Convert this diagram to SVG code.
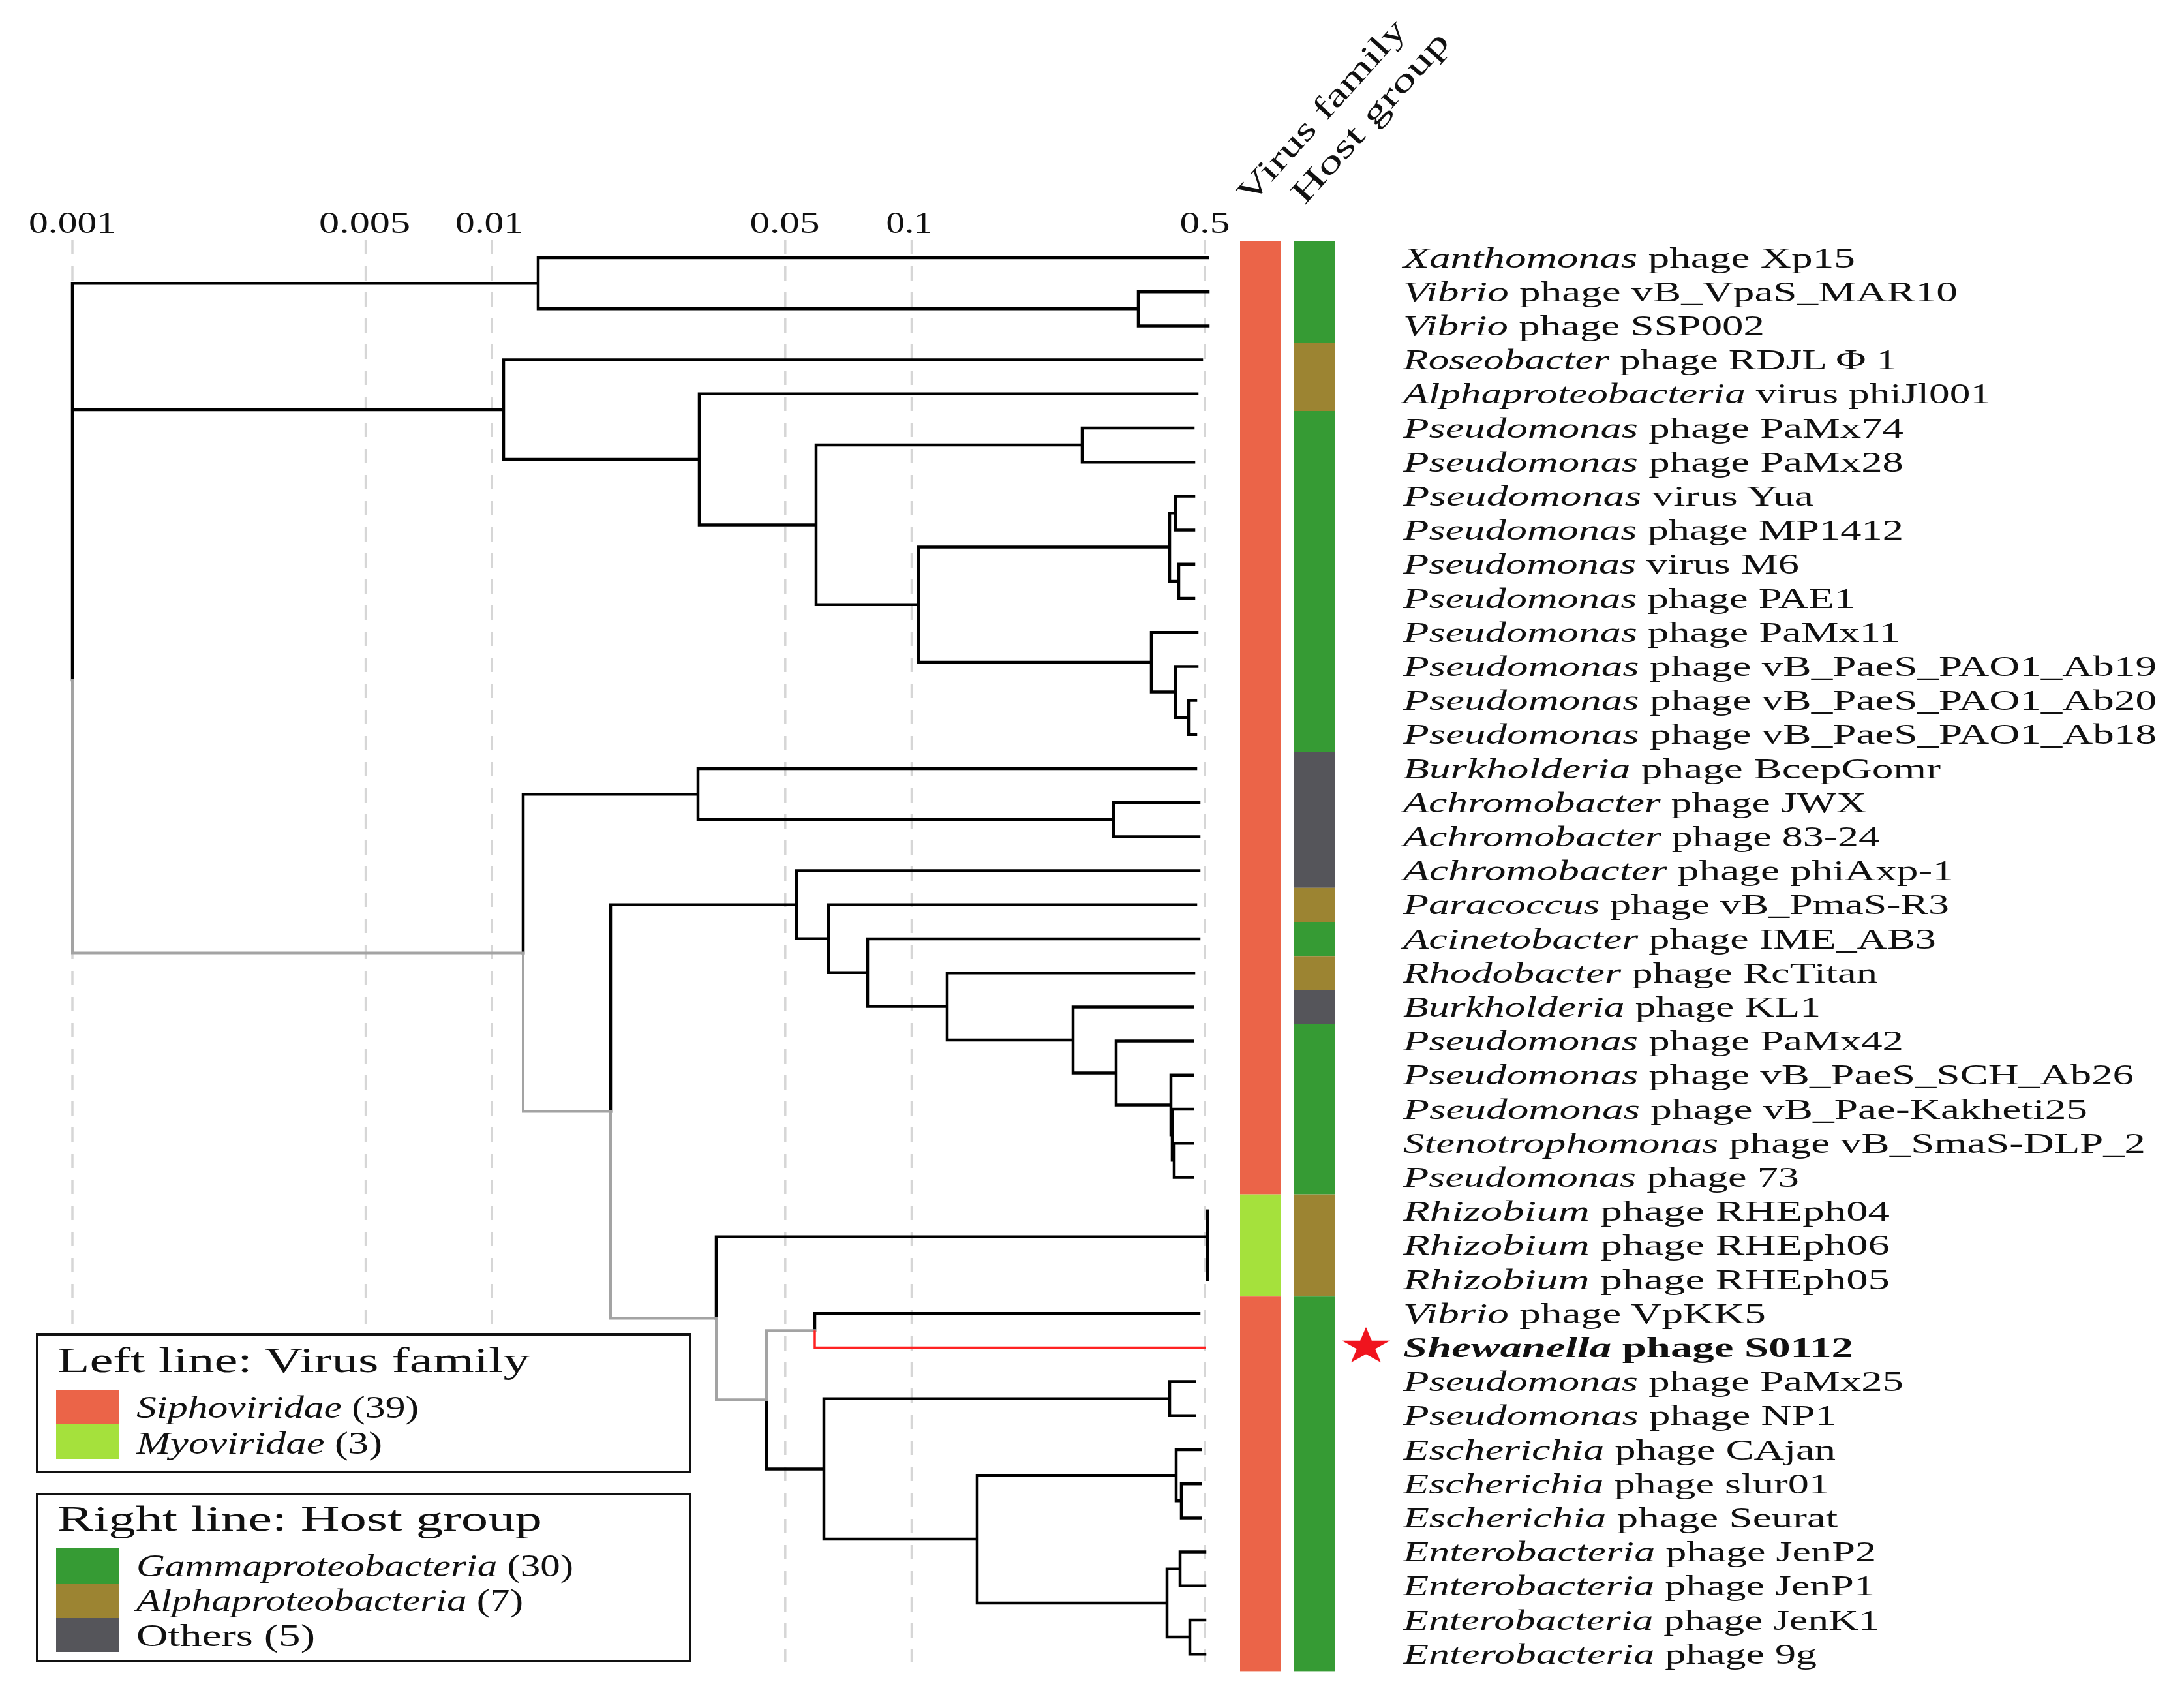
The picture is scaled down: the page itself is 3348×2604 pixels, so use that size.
<svg xmlns="http://www.w3.org/2000/svg" width="3348" height="2604" viewBox="0 0 3348 2604">
<defs>
<style>
.grid{stroke:#d6d6d6;stroke-width:3.5;stroke-dasharray:22 18;fill:none}
.bk{stroke:#000;stroke-width:4.5;fill:none;stroke-linecap:square}
.gy{stroke:#a3a3a3;stroke-width:4;fill:none;stroke-linecap:square}
.rd{stroke:#ff2222;stroke-width:3.5;fill:none;stroke-linecap:butt}
text{font-family:"Liberation Serif","Times New Roman",serif;fill:#111}
.ax{font-size:46px;text-anchor:middle}
.lab{font-size:44px}
.hd{font-size:50px}
.lt{font-size:54px}
.li{font-size:48px}
.it{font-style:italic}
.b{font-weight:bold}
.sipho{fill:#eb6448}
.myo{fill:#a5e13c}
.gam{fill:#369b34}
.alp{fill:#9c8432}
.oth{fill:#55555a}
</style>
</defs>
<rect width="3348" height="2604" fill="#fff"/>

<g id="grid">
<path class="grid" d="M111,368V2548M560.6,368V2548M754,368V2548M1203.8,368V2548M1397.5,368V2548M1847,368V2548"/>
</g>

<g id="axis">
<text class="ax" x="111" y="357" textLength="134" lengthAdjust="spacingAndGlyphs">0.001</text>
<text class="ax" x="559" y="357" textLength="140" lengthAdjust="spacingAndGlyphs">0.005</text>
<text class="ax" x="750" y="357" textLength="104" lengthAdjust="spacingAndGlyphs">0.01</text>
<text class="ax" x="1203" y="357" textLength="107" lengthAdjust="spacingAndGlyphs">0.05</text>
<text class="ax" x="1394" y="357" textLength="71" lengthAdjust="spacingAndGlyphs">0.1</text>
<text class="ax" x="1847" y="357" textLength="77" lengthAdjust="spacingAndGlyphs">0.5</text>
</g>

<g id="headers">
<text class="hd" transform="translate(1917,315) rotate(-48)" textLength="360" lengthAdjust="spacingAndGlyphs">Virus family</text>
<text class="hd" transform="translate(2000,315) rotate(-48)" textLength="335" lengthAdjust="spacingAndGlyphs">Host group</text>
</g>

<g id="connectors">
<path class="bk" d="M111,434.2V1042M111,434.2H825M111,627.9H772
M825,395V473.3M825,395H1851M825,473.3H1745
M1745,447.2V499.4M1745,447.2H1852M1745,499.4H1852
M772,551.6V704.1M772,551.6H1842M772,704.1H1072
M1072,603.8V804.4M1072,603.8H1835M1072,804.4H1251
M1251,682.1V926.8M1251,682.1H1659M1251,926.8H1408
M1659,656V708.2M1659,656H1829M1659,708.2H1830
M1408,838.6V1014.9M1408,838.6H1793M1408,1014.9H1765
M1793,786.3V890.9M1793,786.3H1802M1793,890.9H1807
M1802,760.4V812.6M1802,760.4H1830M1802,812.6H1830
M1807,864.8V917M1807,864.8H1830M1807,917H1830
M1765,969.2V1060.6M1765,969.2H1835M1765,1060.6H1802
M1802,1021.4V1099.7M1802,1021.4H1835M1802,1099.7H1822
M1822,1073.6V1125.8M1822,1073.6H1833M1822,1125.8H1833
M802,1217.2V1460.4M802,1217.2H1070
M1070,1178V1256.3M1070,1178H1833M1070,1256.3H1707
M1707,1230.2V1282.4M1707,1230.2H1838M1707,1282.4H1838
M936,1386.7V1703.6M936,1386.7H1221
M1221,1334.6V1438.8M1221,1334.6H1838M1221,1438.8H1270
M1270,1386.8V1490.8M1270,1386.8H1833M1270,1490.8H1330
M1330,1439V1542.6M1330,1439H1838M1330,1542.6H1452
M1452,1491.2V1594M1452,1491.2H1830M1452,1594H1645
M1645,1543.4V1644.5M1645,1543.4H1828M1645,1644.5H1711
M1711,1595.6V1693.5M1711,1595.6H1828M1711,1693.5H1795
M1795,1647.8V1739.2M1795,1647.8H1828M1795,1739.2H1797
M1797,1700V1778.3M1797,1700H1828M1797,1778.3H1800
M1800,1752.2V1804.4M1800,1752.2H1828M1800,1804.4H1828
M1098,1895.8V2020.5M1098,1895.8H1851
M1175,2145.3V2251.4H1263
M1249,2013.2V2039.3M1249,2013.2H1838
M1263,2143.7V2359M1263,2143.7H1793M1263,2359H1498
M1793,2117.6V2169.8M1793,2117.6H1831M1793,2169.8H1831
M1498,2261.2V2456.9M1498,2261.2H1803M1498,2456.9H1789
M1803,2222V2300.3M1803,2222H1840M1803,2300.3H1811
M1811,2274.2V2326.4M1811,2274.2H1840M1811,2326.4H1840
M1789,2404.7V2509.1M1789,2404.7H1809M1789,2509.1H1824
M1809,2378.6V2430.8M1809,2378.6H1847M1809,2430.8H1847
M1824,2483V2535.2M1824,2483H1847M1824,2535.2H1847"/>
<path class="bk" style="stroke-width:6" d="M1851,1856.6V1961"/>
<path class="gy" d="M111,1042V1460.4H802M802,1460.4V1703.6H936M936,1703.6V2020.5H1098M1098,2020.5V2145.3H1175M1175,2145.3V2039.3H1249"/>
<path class="rd" d="M1249,2039.3V2065.4H1849"/>
</g>

<g id="heatmap">
<rect class="sipho" x="1901" y="369" width="62" height="1461.6"/>
<rect class="myo" x="1901" y="1830.6" width="62" height="156.6"/>
<rect class="sipho" x="1901" y="1987.2" width="62" height="574.2"/>
<rect class="gam" x="1984" y="369" width="63" height="156.6"/>
<rect class="alp" x="1984" y="525.6" width="63" height="104.4"/>
<rect class="gam" x="1984" y="630" width="63" height="522"/>
<rect class="oth" x="1984" y="1152" width="63" height="208.8"/>
<rect class="alp" x="1984" y="1360.8" width="63" height="52.2"/>
<rect class="gam" x="1984" y="1413" width="63" height="52.2"/>
<rect class="alp" x="1984" y="1465.2" width="63" height="52.2"/>
<rect class="oth" x="1984" y="1517.4" width="63" height="52.2"/>
<rect class="gam" x="1984" y="1569.6" width="63" height="261"/>
<rect class="alp" x="1984" y="1830.6" width="63" height="156.6"/>
<rect class="gam" x="1984" y="1987.2" width="63" height="574.2"/>
</g>

<g id="star">
<polygon fill="#f0141e" points="2094,2034 2102.8,2054.7 2131.1,2054.7 2108.2,2067.5 2116.9,2088.3 2094,2075.5 2071.1,2088.3 2079.8,2067.5 2056.9,2054.7 2085.2,2054.7"/>
</g>

<g id="labels">
<g id="leaf00"><text class="lab" x="2151" y="409.5" textLength="693" lengthAdjust="spacingAndGlyphs"><tspan class="it">Xanthomonas</tspan> phage Xp15</text></g>
<g id="leaf01"><text class="lab" x="2151" y="461.7" textLength="850" lengthAdjust="spacingAndGlyphs"><tspan class="it">Vibrio</tspan> phage vB_VpaS_MAR10</text></g>
<g id="leaf02"><text class="lab" x="2151" y="513.9" textLength="554" lengthAdjust="spacingAndGlyphs"><tspan class="it">Vibrio</tspan> phage SSP002</text></g>
<g id="leaf03"><text class="lab" x="2151" y="566.1" textLength="757" lengthAdjust="spacingAndGlyphs"><tspan class="it">Roseobacter</tspan> phage RDJL Φ 1</text></g>
<g id="leaf04"><text class="lab" x="2151" y="618.3" textLength="901" lengthAdjust="spacingAndGlyphs"><tspan class="it">Alphaproteobacteria</tspan> virus phiJl001</text></g>
<g id="leaf05"><text class="lab" x="2151" y="670.5" textLength="767" lengthAdjust="spacingAndGlyphs"><tspan class="it">Pseudomonas</tspan> phage PaMx74</text></g>
<g id="leaf06"><text class="lab" x="2151" y="722.7" textLength="767" lengthAdjust="spacingAndGlyphs"><tspan class="it">Pseudomonas</tspan> phage PaMx28</text></g>
<g id="leaf07"><text class="lab" x="2151" y="774.9" textLength="629" lengthAdjust="spacingAndGlyphs"><tspan class="it">Pseudomonas</tspan> virus Yua</text></g>
<g id="leaf08"><text class="lab" x="2151" y="827.1" textLength="767" lengthAdjust="spacingAndGlyphs"><tspan class="it">Pseudomonas</tspan> phage MP1412</text></g>
<g id="leaf09"><text class="lab" x="2151" y="879.3" textLength="607" lengthAdjust="spacingAndGlyphs"><tspan class="it">Pseudomonas</tspan> virus M6</text></g>
<g id="leaf10"><text class="lab" x="2151" y="931.5" textLength="693" lengthAdjust="spacingAndGlyphs"><tspan class="it">Pseudomonas</tspan> phage PAE1</text></g>
<g id="leaf11"><text class="lab" x="2151" y="983.7" textLength="762" lengthAdjust="spacingAndGlyphs"><tspan class="it">Pseudomonas</tspan> phage PaMx11</text></g>
<g id="leaf12"><text class="lab" x="2151" y="1035.9" textLength="1155" lengthAdjust="spacingAndGlyphs"><tspan class="it">Pseudomonas</tspan> phage vB_PaeS_PAO1_Ab19</text></g>
<g id="leaf13"><text class="lab" x="2151" y="1088.1" textLength="1155" lengthAdjust="spacingAndGlyphs"><tspan class="it">Pseudomonas</tspan> phage vB_PaeS_PAO1_Ab20</text></g>
<g id="leaf14"><text class="lab" x="2151" y="1140.3" textLength="1155" lengthAdjust="spacingAndGlyphs"><tspan class="it">Pseudomonas</tspan> phage vB_PaeS_PAO1_Ab18</text></g>
<g id="leaf15"><text class="lab" x="2151" y="1192.5" textLength="824" lengthAdjust="spacingAndGlyphs"><tspan class="it">Burkholderia</tspan> phage BcepGomr</text></g>
<g id="leaf16"><text class="lab" x="2151" y="1244.7" textLength="710" lengthAdjust="spacingAndGlyphs"><tspan class="it">Achromobacter</tspan> phage JWX</text></g>
<g id="leaf17"><text class="lab" x="2151" y="1296.9" textLength="730" lengthAdjust="spacingAndGlyphs"><tspan class="it">Achromobacter</tspan> phage 83-24</text></g>
<g id="leaf18"><text class="lab" x="2151" y="1349.1" textLength="844" lengthAdjust="spacingAndGlyphs"><tspan class="it">Achromobacter</tspan> phage phiAxp-1</text></g>
<g id="leaf19"><text class="lab" x="2151" y="1401.3" textLength="837" lengthAdjust="spacingAndGlyphs"><tspan class="it">Paracoccus</tspan> phage vB_PmaS-R3</text></g>
<g id="leaf20"><text class="lab" x="2151" y="1453.5" textLength="817" lengthAdjust="spacingAndGlyphs"><tspan class="it">Acinetobacter</tspan> phage IME_AB3</text></g>
<g id="leaf21"><text class="lab" x="2151" y="1505.7" textLength="727" lengthAdjust="spacingAndGlyphs"><tspan class="it">Rhodobacter</tspan> phage RcTitan</text></g>
<g id="leaf22"><text class="lab" x="2151" y="1557.9" textLength="640" lengthAdjust="spacingAndGlyphs"><tspan class="it">Burkholderia</tspan> phage KL1</text></g>
<g id="leaf23"><text class="lab" x="2151" y="1610.1" textLength="767" lengthAdjust="spacingAndGlyphs"><tspan class="it">Pseudomonas</tspan> phage PaMx42</text></g>
<g id="leaf24"><text class="lab" x="2151" y="1662.3" textLength="1120" lengthAdjust="spacingAndGlyphs"><tspan class="it">Pseudomonas</tspan> phage vB_PaeS_SCH_Ab26</text></g>
<g id="leaf25"><text class="lab" x="2151" y="1714.5" textLength="1049" lengthAdjust="spacingAndGlyphs"><tspan class="it">Pseudomonas</tspan> phage vB_Pae-Kakheti25</text></g>
<g id="leaf26"><text class="lab" x="2151" y="1766.7" textLength="1138" lengthAdjust="spacingAndGlyphs"><tspan class="it">Stenotrophomonas</tspan> phage vB_SmaS-DLP_2</text></g>
<g id="leaf27"><text class="lab" x="2151" y="1818.9" textLength="607" lengthAdjust="spacingAndGlyphs"><tspan class="it">Pseudomonas</tspan> phage 73</text></g>
<g id="leaf28"><text class="lab" x="2151" y="1871.1" textLength="746" lengthAdjust="spacingAndGlyphs"><tspan class="it">Rhizobium</tspan> phage RHEph04</text></g>
<g id="leaf29"><text class="lab" x="2151" y="1923.3" textLength="746" lengthAdjust="spacingAndGlyphs"><tspan class="it">Rhizobium</tspan> phage RHEph06</text></g>
<g id="leaf30"><text class="lab" x="2151" y="1975.5" textLength="746" lengthAdjust="spacingAndGlyphs"><tspan class="it">Rhizobium</tspan> phage RHEph05</text></g>
<g id="leaf31"><text class="lab" x="2151" y="2027.7" textLength="556" lengthAdjust="spacingAndGlyphs"><tspan class="it">Vibrio</tspan> phage VpKK5</text></g>
<g id="leaf32"><text class="lab b" x="2151" y="2079.9" textLength="690" lengthAdjust="spacingAndGlyphs"><tspan class="it">Shewanella</tspan> phage S0112</text></g>
<g id="leaf33"><text class="lab" x="2151" y="2132.1" textLength="767" lengthAdjust="spacingAndGlyphs"><tspan class="it">Pseudomonas</tspan> phage PaMx25</text></g>
<g id="leaf34"><text class="lab" x="2151" y="2184.3" textLength="664" lengthAdjust="spacingAndGlyphs"><tspan class="it">Pseudomonas</tspan> phage NP1</text></g>
<g id="leaf35"><text class="lab" x="2151" y="2236.5" textLength="663" lengthAdjust="spacingAndGlyphs"><tspan class="it">Escherichia</tspan> phage CAjan</text></g>
<g id="leaf36"><text class="lab" x="2151" y="2288.7" textLength="654" lengthAdjust="spacingAndGlyphs"><tspan class="it">Escherichia</tspan> phage slur01</text></g>
<g id="leaf37"><text class="lab" x="2151" y="2340.9" textLength="666" lengthAdjust="spacingAndGlyphs"><tspan class="it">Escherichia</tspan> phage Seurat</text></g>
<g id="leaf38"><text class="lab" x="2151" y="2393.1" textLength="725" lengthAdjust="spacingAndGlyphs"><tspan class="it">Enterobacteria</tspan> phage JenP2</text></g>
<g id="leaf39"><text class="lab" x="2151" y="2445.3" textLength="723" lengthAdjust="spacingAndGlyphs"><tspan class="it">Enterobacteria</tspan> phage JenP1</text></g>
<g id="leaf40"><text class="lab" x="2151" y="2497.5" textLength="730" lengthAdjust="spacingAndGlyphs"><tspan class="it">Enterobacteria</tspan> phage JenK1</text></g>
<g id="leaf41"><text class="lab" x="2151" y="2549.7" textLength="634" lengthAdjust="spacingAndGlyphs"><tspan class="it">Enterobacteria</tspan> phage 9g</text></g>
</g>

<g id="legend">
<rect x="40" y="2030" width="1035" height="532" fill="#fff"/>
<g id="legend-virus">
<rect x="57" y="2045" width="1001" height="211" fill="#fff" stroke="#111" stroke-width="4"/>
<text class="lt" x="88" y="2103" textLength="724" lengthAdjust="spacingAndGlyphs">Left line: Virus family</text>
<rect class="sipho" x="86" y="2131" width="96" height="52"/>
<rect class="myo" x="86" y="2183" width="96" height="53"/>
<text class="li" x="209" y="2173" textLength="433" lengthAdjust="spacingAndGlyphs"><tspan class="it">Siphoviridae</tspan> (39)</text>
<text class="li" x="209" y="2228" textLength="377" lengthAdjust="spacingAndGlyphs"><tspan class="it">Myoviridae</tspan> (3)</text>
</g>
<g id="legend-host">
<rect x="57" y="2290" width="1001" height="256" fill="#fff" stroke="#111" stroke-width="4"/>
<text class="lt" x="88" y="2346" textLength="743" lengthAdjust="spacingAndGlyphs">Right line: Host group</text>
<rect class="gam" x="86" y="2373" width="96" height="55"/>
<rect class="alp" x="86" y="2428" width="96" height="52"/>
<rect class="oth" x="86" y="2480" width="96" height="52"/>
<text class="li" x="209" y="2416" textLength="670" lengthAdjust="spacingAndGlyphs"><tspan class="it">Gammaproteobacteria</tspan> (30)</text>
<text class="li" x="209" y="2469" textLength="593" lengthAdjust="spacingAndGlyphs"><tspan class="it">Alphaproteobacteria</tspan> (7)</text>
<text class="li" x="209" y="2523" textLength="274" lengthAdjust="spacingAndGlyphs">Others (5)</text>
</g>
</g>
</svg>
